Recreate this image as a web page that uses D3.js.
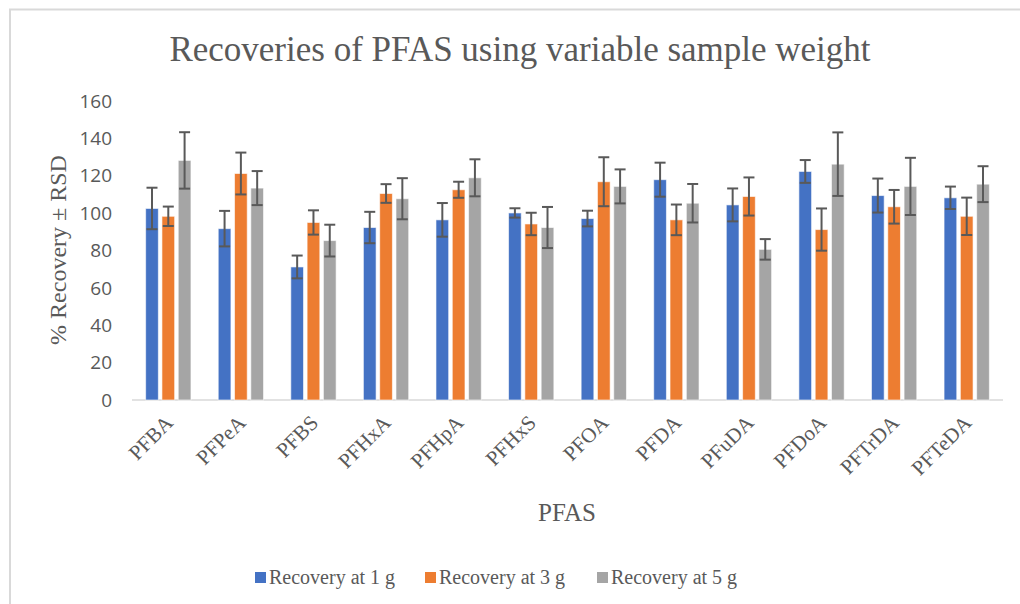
<!DOCTYPE html>
<html>
<head>
<meta charset="utf-8">
<script src="https://cdn.jsdelivr.net/npm/d3@7"></script>
<style>
  body { margin: 0; background: #fff; }
  text { fill: #595959; }
</style>
</head>
<body>
<div class="canvas"></div>
<script>
// data
const compounds = ["PFBA", "PFPeA", "PFBS", "PFHxA", "PFHpA", "PFHxS", "PFOA", "PFDA", "PFuDA", "PFDoA", "PFTrDA", "PFTeDA"];
const seriesNames = ["Recovery at 1 g", "Recovery at 3 g", "Recovery at 5 g"];
const rec1g = [102.5, 91.7, 71.2, 92.3, 96.4, 100.1, 97.1, 117.9, 104.4, 122.3, 109.4, 108.2];
const rec3g = [98.3, 121.2, 95.0, 110.5, 112.5, 94.2, 116.8, 96.4, 108.9, 91.2, 103.4, 98.3];
const rec5g = [128.2, 113.4, 85.3, 107.7, 118.9, 92.3, 114.3, 105.3, 80.6, 126.2, 114.3, 115.5];
const rsd1g = [11.1, 9.5, 6.1, 8.4, 9.0, 2.5, 4.2, 9.1, 8.8, 6.1, 9.1, 6.0];
const rsd3g = [5.2, 11.2, 6.5, 5.0, 4.3, 6.0, 13.1, 8.2, 10.2, 11.3, 9.0, 10.0];
const rsd5g = [15.1, 9.1, 8.5, 11.0, 9.9, 11.0, 9.1, 10.3, 5.5, 17.0, 15.3, 9.6];
const yTicks = [0, 20, 40, 60, 80, 100, 120, 140, 160];
const colors = ["#4472C4", "#ED7D31", "#A5A5A5"];

const w = 1020;
const h = 604;
const margin = { top: 101, right: 17, bottom: 204, left: 132 };
const graphWidth = w - margin.left - margin.right;
const graphHeight = h - margin.top - margin.bottom;

const values = [rec1g, rec3g, rec5g];
const errors = [rsd1g, rsd3g, rsd5g];

const svg = d3.select(".canvas").append("svg").attr("width", w).attr("height", h);

// chart border
svg.append("rect")
  .attr("x", 10).attr("y", 9.5)
  .attr("width", w).attr("height", h)
  .attr("fill", "none")
  .attr("stroke", "#D9D9D9")
  .attr("stroke-width", 2);

const graph = svg.append("g")
  .attr("transform", `translate(${margin.left}, ${margin.top})`);

const xScale = d3.scaleBand().domain(compounds).range([0, graphWidth]);
const yScale = d3.scaleLinear().domain([0, 160]).range([graphHeight, 0]);

const barWidth = 12.7;
const step = 16.3;
const xSeries = d3.scaleOrdinal().domain([0, 1, 2]).range([-step, 0, step]);

// y tick labels
graph.selectAll(".ytick")
  .data(yTicks)
  .enter().append("text")
  .attr("x", -20)
  .attr("y", (d) => yScale(d))
  .attr("dy", "0.35em")
  .attr("text-anchor", "end")
  .style("font-family", "'Open Sans', sans-serif")
  .style("font-size", "19px")
  .text((d) => d);

// baseline
graph.append("line")
  .attr("x1", 0).attr("x2", graphWidth)
  .attr("y1", yScale(0)).attr("y2", yScale(0))
  .attr("stroke", "#D9D9D9")
  .attr("stroke-width", 1.5);

// bars
values.forEach((series, s) => {
  graph.selectAll(".bar" + s)
    .data(series)
    .enter().append("rect")
    .attr("x", (d, i) => xScale(compounds[i]) + xScale.bandwidth() / 2 + xSeries(s) - barWidth / 2)
    .attr("y", (d) => yScale(d))
    .attr("width", barWidth)
    .attr("height", (d) => yScale(0) - yScale(d))
    .attr("fill", colors[s])
    .attr("stroke", "#fff")
    .attr("stroke-opacity", 0.6)
    .attr("stroke-width", 1);
});

// error bars
values.forEach((series, s) => {
  const eb = graph.selectAll(".err" + s)
    .data(series)
    .enter().append("g")
    .attr("transform", (d, i) => `translate(${xScale(compounds[i]) + xScale.bandwidth() / 2 + xSeries(s)}, 0)`)
    .attr("stroke", "#595959")
    .attr("stroke-width", 2);
  eb.append("line")
    .attr("y1", (d, i) => yScale(d + errors[s][i]))
    .attr("y2", (d, i) => yScale(d - errors[s][i]));
  eb.append("line")
    .attr("x1", -5.5).attr("x2", 5.5)
    .attr("y1", (d, i) => yScale(d + errors[s][i]))
    .attr("y2", (d, i) => yScale(d + errors[s][i]));
  eb.append("line")
    .attr("x1", -5.5).attr("x2", 5.5)
    .attr("y1", (d, i) => yScale(d - errors[s][i]))
    .attr("y2", (d, i) => yScale(d - errors[s][i]));
});

// x tick labels, rotated
graph.selectAll(".xtick")
  .data(compounds)
  .enter().append("text")
  .attr("text-anchor", "end")
  .attr("transform", (d) => `translate(${xScale(d) + xScale.bandwidth() / 2 + 6}, ${graphHeight + 24}) rotate(-45)`)
  .style("font-family", "'Liberation Serif', serif")
  .style("font-size", "21px")
  .text((d) => d);

// title
svg.append("text")
  .attr("x", 520)
  .attr("y", 61)
  .attr("text-anchor", "middle")
  .style("font-family", "'Liberation Serif', serif")
  .style("font-size", "35px")
  .text("Recoveries of PFAS using variable sample weight");

// axis titles
svg.append("text")
  .attr("x", 567)
  .attr("y", 521)
  .attr("text-anchor", "middle")
  .style("font-family", "'Liberation Serif', serif")
  .style("font-size", "25px")
  .text("PFAS");

svg.append("text")
  .attr("transform", "translate(66, 250) rotate(-90)")
  .attr("text-anchor", "middle")
  .style("font-family", "'Liberation Serif', serif")
  .style("font-size", "24px")
  .text("% Recovery ± RSD");

// legend
const legendX = [255, 425, 597];
const legend = svg.append("g");
seriesNames.forEach((name, s) => {
  legend.append("rect")
    .attr("x", legendX[s]).attr("y", 572)
    .attr("width", 11).attr("height", 11)
    .attr("fill", colors[s]);
  legend.append("text")
    .attr("x", legendX[s] + 14)
    .attr("y", 584)
    .style("font-family", "'Liberation Serif', serif")
    .style("font-size", "20px")
    .text(name);
});
</script>
</body>
</html>
